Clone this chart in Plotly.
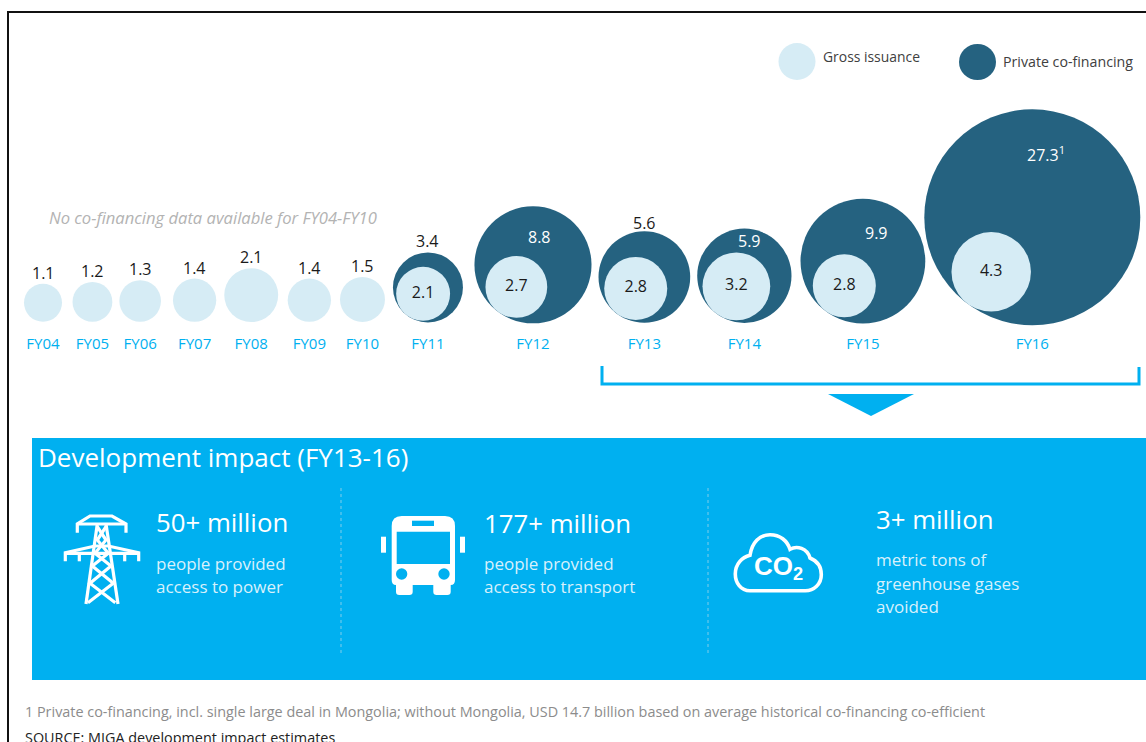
import math
import re
import plotly.graph_objects as go

years = ["FY04", "FY05", "FY06", "FY07", "FY08", "FY09", "FY10",
         "FY11", "FY12", "FY13", "FY14", "FY15", "FY16"]
gross = [1.1, 1.2, 1.3, 1.4, 2.1, 1.4, 1.5, 2.1, 2.7, 2.8, 3.2, 2.8, 4.3]
private = [None, None, None, None, None, None, None, 3.4, 8.8, 5.6, 5.9, 9.9, 27.3]
private_text = ["", "", "", "", "", "", "", "3.4", "8.8", "5.6", "5.9", "9.9", "27.3<sup>1</sup>"]

# space left between neighbouring bubbles, in pixels
slot_gaps = [10.5, 7, 12, 8, 9.5, 9, 8, 11.5, 7, 7, 9, -1]

DARK = "#256280"
LIGHT = "#d6ecf5"
BLUE = "#00b0f0"
FONT = "Open Sans"


def diameter(v):
    # the picture's bubbles follow roughly this power scale
    return 36.1 * v ** 0.541


def dy_to_baseline(d):
    return 321 + 0.02 * d - d / 2


# bubbles are packed left to right, each slot as wide as its biggest circle
outer = [diameter(p if p else g) for p, g in zip(private, gross)]
cx, cy = [], []
left = 24
for i, d in enumerate(outer):
    cx.append(left + d / 2)
    cy.append(dy_to_baseline(d))
    if i < len(slot_gaps):
        left += d + slot_gaps[i]

# gross issuance sits inside the private circle, against its lower left edge
angle = math.radians(53)
gx, gy = [], []
for i, g in enumerate(gross):
    off = (outer[i] - diameter(g)) / 2
    gx.append(cx[i] - off * math.cos(angle))
    gy.append(cy[i] + off * math.sin(angle))

fig = go.Figure()
fig.add_trace(go.Scatter(
    x=cx[7:], y=cy[7:], mode="markers", cliponaxis=False, hoverinfo="skip",
    marker=dict(size=outer[7:], sizemode="diameter", color=DARK, line_width=0, opacity=1),
))
fig.add_trace(go.Scatter(
    x=gx[:7], y=gy[:7], mode="markers", cliponaxis=False, hoverinfo="skip",
    marker=dict(size=[diameter(g) for g in gross[:7]], sizemode="diameter", color=LIGHT, line_width=0, opacity=1),
))
fig.add_trace(go.Scatter(
    x=gx[7:], y=gy[7:], mode="markers+text", cliponaxis=False, hoverinfo="skip",
    text=[str(g) for g in gross[7:]],
    textposition="middle center", textfont=dict(family=FONT, size=16, color="#1a1a1a"),
    marker=dict(size=[diameter(g) for g in gross[7:]], sizemode="diameter", color=LIGHT, line_width=0, opacity=1),
))

# labels above the circles, FY04-10 show gross since there is no private figure
for i, year in enumerate(years):
    if private[i] is None or year in ("FY11", "FY13"):
        label = str(gross[i]) if private[i] is None else private_text[i]
        fig.add_annotation(x=cx[i], y=cy[i] - outer[i] / 2, yshift=8 if year == "FY13" else 11,
                           text=label, showarrow=False,
                           font=dict(family=FONT, size=16, color="#1a1a1a"))

# labels inside the dark crescent, nudged by hand
inside = {"FY12": (7, 28), "FY14": (5, 35), "FY15": (14, 28), "FY16": (14, 63)}
for year, (dx, dy) in inside.items():
    i = years.index(year)
    fig.add_annotation(x=cx[i], y=cy[i], xshift=dx, yshift=dy, text=private_text[i], showarrow=False,
                       font=dict(family=FONT, size=16, color="white"))


def txt(x, y, text, size, color="#404040", anchor="left", italic=False):
    if italic:
        text = "<i>" + text + "</i>"
    fig.add_annotation(x=x, y=y, xshift=-2, text=text, showarrow=False, xanchor=anchor,
                       yanchor="middle", align="left", font=dict(family=FONT, size=size, color=color))


def icon(spec, ox, oy, scale=1 / 3, **style):
    # spec is in zoomed crop coordinates, scale back to the page
    nums = iter(re.findall(r"-?\d+\.?\d*|[A-Za-z]", spec))
    out = []
    is_x = True
    for tok in nums:
        if tok.isalpha():
            out.append(tok)
            is_x = True
        else:
            v = float(tok) * scale + (ox if is_x else oy)
            out.append(f"{v:.1f}")
            is_x = not is_x
    if "line" not in style:
        style["line_width"] = 0
    fig.add_shape(type="path", path=" ".join(out), **style)


# frame round the picture
fig.add_shape(type="path", path="M 8 742 L 8 12 L 1146 12", line=dict(color="#111111", width=2))

# legend
fig.add_shape(type="circle", x0=778.5, x1=815.5, y0=43, y1=80, fillcolor=LIGHT, line_width=0)
fig.add_shape(type="circle", x0=959, x1=996, y0=44, y1=80, fillcolor=DARK, line_width=0)
txt(823, 56.5, "Gross issuance", 13.9)
txt(1003, 61, "Private co-financing", 14.2)

txt(49, 217.5, "No co-financing data available for FY04-FY10", 16.6, "#b3b3b3", italic=True)

# bracket and arrow down to the panel
fig.add_shape(type="path", path="M 602 366 L 602 384 L 1139 384 L 1139 367",
              line=dict(color=BLUE, width=3))
fig.add_shape(type="path", path="M 828 394 L 914 394 L 871 416 Z", fillcolor=BLUE, line_width=0)

# impact panel
fig.add_shape(type="rect", x0=32, x1=1146, y0=438, y1=680, fillcolor=BLUE, line_width=0)
for x in (341, 708):
    fig.add_shape(type="line", x0=x, x1=x, y0=488, y1=654, line=dict(color="#7fcdea", width=1, dash="3px,3px"))

txt(38, 457, "Development impact (FY13-16)", 26, "white")
txt(156, 522, "50+ million", 25.8, "white")
txt(156, 563, "people provided", 17, "#d8f1fc")
txt(156, 586, "access to power", 17, "#d8f1fc")
txt(484, 523, "177+ million", 25.8, "white")
txt(484, 563, "people provided", 17, "#d8f1fc")
txt(484, 586, "access to transport", 17, "#d8f1fc")
txt(876, 519, "3+ million", 25.8, "white")
txt(876, 559, "metric tons of", 17, "#d8f1fc")
txt(876, 583, "greenhouse gases", 17, "#d8f1fc")
txt(876, 606, "avoided", 17, "#d8f1fc")

# pylon
wire = dict(line=dict(color="white", width=3.2))
tower = ["M 112 128 L 112 102 L 150 78 L 216 78 L 258 102 L 258 128",
         "M 112 102 L 258 102",
         "M 76 214 L 76 188 L 165 168 L 205 168 L 296 188 L 296 214",
         "M 76 190 L 296 190",
         "M 118 190 L 118 214", "M 254 190 L 254 214",
         "M 172 102 L 138 342", "M 198 102 L 234 342",
         "M 172 110 L 198 150 L 165 190 L 213 228 L 150 280 L 226 338",
         "M 198 110 L 172 150 L 205 190 L 157 228 L 220 280 L 144 338"]
for seg in tower:
    icon(seg, 40, 490, **wire)

# bus
bus_body = ("M 1085 78 L 1215 78 Q 1245 78 1245 108 L 1245 270 Q 1245 285 1232 285 L 1232 305 Q 1232 315 1222 315 "
            "L 1190 315 Q 1180 315 1180 305 L 1180 285 L 1118 285 L 1118 305 Q 1118 315 1108 315 L 1078 315 "
            "Q 1068 315 1068 305 L 1068 285 Q 1055 285 1055 270 L 1055 108 Q 1055 78 1085 78 Z")
icon(bus_body, 40, 490, fillcolor="white")
icon("M 1070 125 L 1230 125 L 1230 222 L 1070 222 Z", 40, 490, fillcolor=BLUE)
icon("M 1116 92 L 1182 92 L 1182 108 L 1116 108 Z", 40, 490, fillcolor=BLUE)
icon("M 1023 140 L 1038 140 L 1038 188 L 1023 188 Z", 40, 490, fillcolor="white")
icon("M 1260 140 L 1275 140 L 1275 188 L 1260 188 Z", 40, 490, fillcolor="white")
for c in (1085, 1212):
    fig.add_shape(type="circle", x0=40 + (c - 17) / 3, x1=40 + (c + 17) / 3,
                  y0=490 + 235 / 3, y1=490 + 269 / 3, fillcolor=BLUE, line_width=0)

# cloud
cloud = ("M 150 272 C 122 272 106 248 106 222 C 106 192 126 172 150 166 C 156 126 180 104 210 104 "
         "C 240 104 262 122 270 148 C 290 136 322 144 330 174 C 350 182 364 200 364 224 "
         "C 364 252 342 272 316 272 Z")
icon(cloud, 700, 500, line=dict(color="white", width=3.6))
fig.add_annotation(x=778, y=567, text="<b>CO<sub>2</sub></b>", showarrow=False,
                   font=dict(family="Liberation Sans", size=26, color="white"))

# notes, the source line runs off the bottom of the page
txt(25, 711, "1 Private co-financing, incl. single large deal in Mongolia; without Mongolia, "
    "USD 14.7 billion based on average historical co-financing co-efficient", 14.4, "#8c8c8c")
txt(25, 737, "SOURCE: MIGA development impact estimates", 14.4, "#222222")

# one axis unit is one pixel of the window
fig.update_layout(
    width=1146, height=742, margin=dict(l=0, r=0, t=0, b=0),
    paper_bgcolor="white", plot_bgcolor="white", showlegend=False,
    xaxis=dict(range=[0, 1146], tickmode="array", tickvals=cx, ticktext=years, showgrid=False,
               zeroline=False, showline=False, ticks="outside", ticklen=7, tickcolor="rgba(0,0,0,0)",
               tickfont=dict(family=FONT, size=15, color=BLUE), anchor="free", position=1 - 323 / 742,
               automargin=False),
    yaxis=dict(range=[742, 0], visible=False, automargin=False),
)

fig.write_html("out.html", config={"displayModeBar": False},
               post_script="document.body.style.margin = '0';")
